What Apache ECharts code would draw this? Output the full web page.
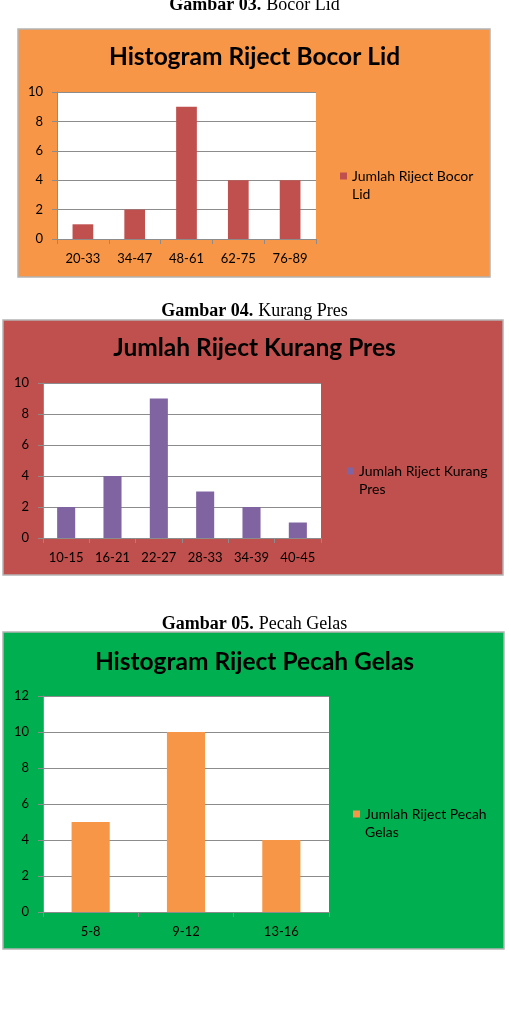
<!DOCTYPE html>
<html>
<head>
<meta charset="utf-8">
<script src="https://cdn.jsdelivr.net/npm/echarts@6/dist/echarts.min.js"></script>
<style>
  html, body { margin: 0; padding: 0; background: #fff; }
  #main { width: 509px; height: 1009px; }
</style>
</head>
<body>
<div id="main"></div>
<script>
var cats1 = ['20-33', '34-47', '48-61', '62-75', '76-89'];
var vals1 = [1, 2, 9, 4, 4];
var cats2 = ['10-15', '16-21', '22-27', '28-33', '34-39', '40-45'];
var vals2 = [2, 4, 9, 3, 2, 1];
var cats3 = ['5-8', '9-12', '13-16'];
var vals3 = [5, 10, 4];

var FONT = 'Lato';
var chart = echarts.init(document.getElementById('main'));

function caption(bold, rest, top) {
  return {
    text: '{b|' + bold + '} {n|' + rest + '}',
    left: 'center',
    top: top,
    padding: 0,
    textStyle: {
      rich: {
        b: { fontFamily: 'Liberation Serif', fontWeight: 'bold', fontSize: 18, color: '#000' },
        n: { fontFamily: 'Liberation Serif', fontWeight: 'normal', fontSize: 18, color: '#000' }
      }
    }
  };
}

function heading(text, top) {
  return {
    text: text,
    left: 'center',
    top: top,
    padding: 0,
    textStyle: { fontFamily: FONT, fontWeight: 'bold', fontSize: 24.5, color: '#000' }
  };
}

function xAx(idx, cats) {
  return {
    type: 'category',
    gridIndex: idx,
    data: cats,
    axisLine: { lineStyle: { color: '#8c8c8c' } },
    axisTick: { show: true, length: 5, lineStyle: { color: '#8c8c8c' } },
    axisLabel: { fontFamily: FONT, fontSize: 13, color: '#000', margin: 13 }
  };
}

function yAx(idx, max) {
  return {
    type: 'value',
    gridIndex: idx,
    min: 0,
    max: max,
    interval: 2,
    axisLine: { show: true, lineStyle: { color: '#8c8c8c' } },
    axisTick: { show: true, length: 5, lineStyle: { color: '#8c8c8c' } },
    splitLine: { lineStyle: { color: '#8c8c8c' } },
    axisLabel: { fontFamily: FONT, fontSize: 13, color: '#000', margin: 14 }
  };
}

function legendAt(name, left, top) {
  return {
    data: [name],
    left: left,
    top: top,
    padding: 0,
    orient: 'vertical',
    icon: 'rect',
    itemWidth: 7,
    itemHeight: 7,
    itemGap: 4,
    // blank first line so the marker sits beside the first text line
    formatter: function (n) {
      var i = n.lastIndexOf(' ');
      return ' \n' + n.slice(0, i) + '\n' + n.slice(i + 1);
    },
    textStyle: { fontFamily: FONT, fontSize: 14, color: '#000', lineHeight: 18 }
  };
}

function box(x, y, w, h, color) {
  return {
    type: 'rect',
    z: -10,
    shape: { x: x, y: y, width: w, height: h },
    style: { fill: color, stroke: '#b4b4b4', lineWidth: 1.5 }
  };
}

var option = {
  backgroundColor: '#fff',
  animation: false,
  graphic: [
    box(18, 29, 472, 248, '#F79646'),
    box(3, 320, 500, 255, '#C0504D'),
    box(3, 632, 501, 317, '#00B050')
  ],
  title: [
    caption('Gambar 03.', 'Bocor Lid', -4),
    heading('Histogram Riject Bocor Lid', 45),
    caption('Gambar 04.', 'Kurang Pres', 302),
    heading('Jumlah Riject Kurang Pres', 336),
    caption('Gambar 05.', 'Pecah Gelas', 615),
    heading('Histogram Riject Pecah Gelas', 650)
  ],
  legend: [
    legendAt('Jumlah Riject Bocor Lid', 340, 149),
    legendAt('Jumlah Riject Kurang Pres', 347, 444),
    legendAt('Jumlah Riject Pecah Gelas', 353, 787)
  ],
  grid: [
    { left: 57, top: 92, width: 259, height: 147, show: true, backgroundColor: '#fff', borderWidth: 0 },
    { left: 43, top: 383, width: 278, height: 155, show: true, backgroundColor: '#fff', borderWidth: 0 },
    { left: 43, top: 696, width: 286, height: 216, show: true, backgroundColor: '#fff', borderWidth: 0 }
  ],
  xAxis: [xAx(0, cats1), xAx(1, cats2), xAx(2, cats3)],
  yAxis: [yAx(0, 10), yAx(1, 10), yAx(2, 12)],
  series: [
    { type: 'bar', name: 'Jumlah Riject Bocor Lid', xAxisIndex: 0, yAxisIndex: 0, data: vals1, barWidth: '40%', itemStyle: { color: '#C0504D' } },
    { type: 'bar', name: 'Jumlah Riject Kurang Pres', xAxisIndex: 1, yAxisIndex: 1, data: vals2, barWidth: '39%', itemStyle: { color: '#8064A2' } },
    { type: 'bar', name: 'Jumlah Riject Pecah Gelas', xAxisIndex: 2, yAxisIndex: 2, data: vals3, barWidth: '40%', itemStyle: { color: '#F79646' } }
  ]
};

chart.setOption(option);
</script>
</body>
</html>
